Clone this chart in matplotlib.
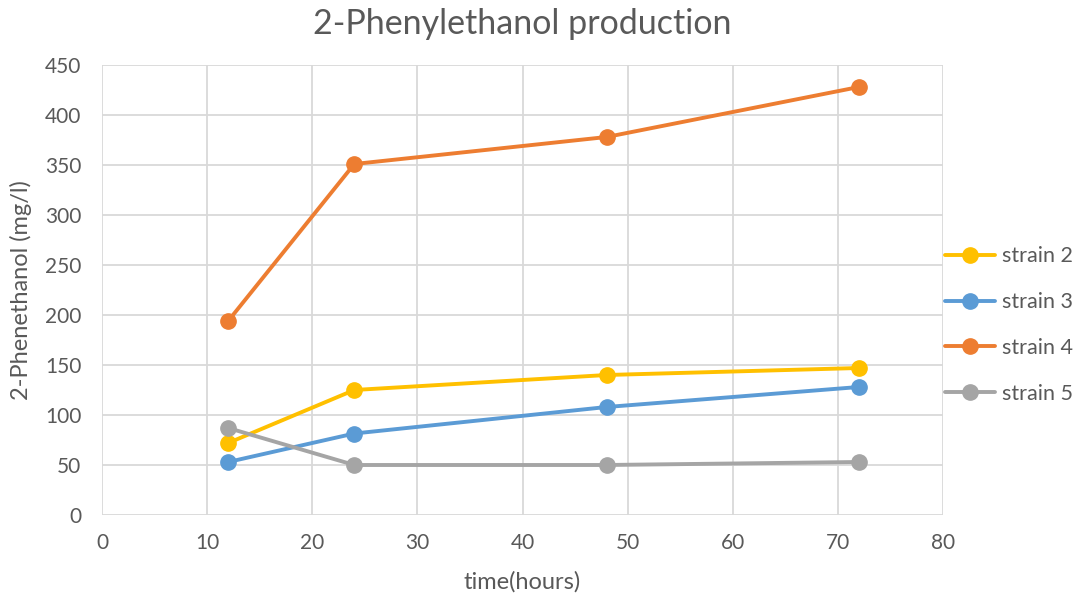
import matplotlib
matplotlib.use("Agg")
import matplotlib.pyplot as plt

time_hours = [12, 24, 48, 72]
strain2 = [72, 125, 140, 147]
strain3 = [53, 81.5, 108, 128]
strain4 = [194, 351, 378, 428]
strain5 = [87, 50, 50, 53]
series_names = ["strain 2", "strain 3", "strain 4", "strain 5"]
colors = ["#FFC000", "#5B9BD5", "#ED7D31", "#A5A5A5"]

plt.rcParams['font.family'] = ['Lato', 'DejaVu Sans']
txt = "#595959"

fig = plt.figure(figsize=(10.81, 6.0), dpi=100)
ax = fig.add_axes([102/1081, 1-515/600, (943-102)/1081, (515-65)/600])

for vals, name, c in zip([strain2, strain3, strain4, strain5], series_names, colors):
    ax.plot(time_hours, vals, color=c, lw=2.8, marker='o', markersize=11,
            label=name, solid_capstyle='round')

ax.set_xlim(0, 80)
ax.set_ylim(0, 450)
ax.set_xticks(range(0, 81, 10))
ax.set_yticks(range(0, 451, 50))
ax.grid(True, color="#D9D9D9", lw=1.3)
ax.set_axisbelow(True)
for s in ax.spines.values():
    s.set_visible(False)
ax.tick_params(axis='y', length=0, labelsize=15, colors=txt, pad=15)
ax.tick_params(axis='x', length=0, labelsize=15, colors=txt, pad=13)

ax.set_title("2-Phenylethanol production", fontsize=24.5, color=txt, pad=22)
ax.set_xlabel("time(hours)", fontsize=17, color=txt, labelpad=13)
ax.set_ylabel("2-Phenethanol (mg/l)", fontsize=17, color=txt, labelpad=9)

leg = fig.legend(loc='center left', bbox_to_anchor=(943/1081, 1-325/600),
                 frameon=False, fontsize=15.5, handlelength=2.3,
                 labelspacing=1.2, handletextpad=0.35, borderaxespad=0.0,
                 borderpad=0.1)
for t in leg.get_texts():
    t.set_color(txt)

fig.savefig("out.png", dpi=100)
